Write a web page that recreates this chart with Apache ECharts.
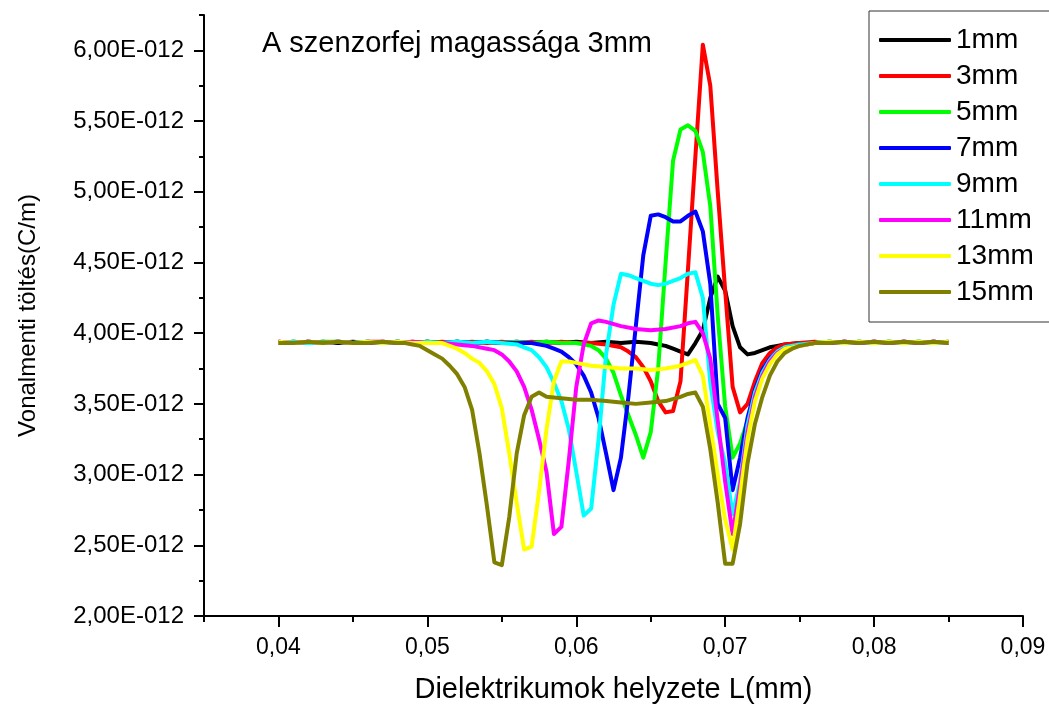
<!DOCTYPE html>
<html>
<head>
<meta charset="utf-8">
<script src="https://cdn.jsdelivr.net/npm/echarts@6/dist/echarts.min.js"></script>
<style>
html,body{margin:0;padding:0;background:#fff;}
#chart{width:1049px;height:711px;}
</style>
</head>
<body>
<div id="chart"></div>
<script>
// ---- data (y in units of 1E-012 C/m) ----
const seriesNames = ['1mm','3mm','5mm','7mm','9mm','11mm','13mm','15mm'];
const xMajorTicks = [0.04,0.05,0.06,0.07,0.08,0.09];
const xMinorTicks = [0.035,0.045,0.055,0.065,0.075,0.085];
const yMajorTicks = [2,2.5,3,3.5,4,4.5,5,5.5,6];
const yMinorTicks = [2.25,2.75,3.25,3.75,4.25,4.75,5.25,5.75,6.25];
const annotation = 'A szenzorfej magassága 3mm';

const s1mm = [[0.040,3.93],[0.041,3.94],[0.042,3.93],[0.043,3.94],[0.044,3.93],[0.045,3.94],[0.046,3.93],[0.047,3.93],[0.048,3.94],[0.049,3.93],[0.050,3.94],[0.051,3.93],[0.052,3.94],[0.053,3.93],[0.054,3.94],[0.055,3.93],[0.056,3.94],[0.057,3.93],[0.058,3.94],[0.059,3.93],[0.060,3.94],[0.061,3.93],[0.062,3.94],[0.063,3.93],[0.064,3.94],[0.065,3.93],[0.0655,3.92],[0.066,3.91],[0.0665,3.89],[0.067,3.87],[0.0675,3.85],[0.068,3.93],[0.0685,4.02],[0.069,4.25],[0.0695,4.40],[0.070,4.30],[0.0705,4.05],[0.071,3.90],[0.0715,3.85],[0.072,3.86],[0.0725,3.88],[0.073,3.90],[0.0735,3.91],[0.074,3.92],[0.075,3.93],[0.076,3.93],[0.077,3.94],[0.078,3.93],[0.079,3.94],[0.080,3.93],[0.081,3.94],[0.082,3.93],[0.083,3.94],[0.084,3.93],[0.085,3.94]];

const s3mm = [[0.040,3.94],[0.041,3.93],[0.042,3.94],[0.043,3.93],[0.044,3.94],[0.045,3.93],[0.046,3.94],[0.047,3.94],[0.048,3.93],[0.049,3.94],[0.050,3.93],[0.051,3.94],[0.052,3.93],[0.053,3.94],[0.054,3.93],[0.055,3.94],[0.056,3.93],[0.057,3.94],[0.058,3.93],[0.059,3.94],[0.060,3.93],[0.061,3.93],[0.062,3.92],[0.063,3.90],[0.0635,3.87],[0.064,3.83],[0.0645,3.76],[0.065,3.66],[0.0655,3.52],[0.066,3.44],[0.0665,3.45],[0.067,3.66],[0.0675,4.45],[0.068,5.25],[0.0685,6.04],[0.069,5.75],[0.0695,5.00],[0.070,4.30],[0.0705,3.62],[0.071,3.44],[0.0715,3.50],[0.072,3.66],[0.0725,3.79],[0.073,3.86],[0.0735,3.90],[0.074,3.92],[0.075,3.93],[0.076,3.94],[0.077,3.93],[0.078,3.94],[0.079,3.93],[0.080,3.94],[0.081,3.93],[0.082,3.94],[0.083,3.93],[0.084,3.94],[0.085,3.93]];

const s5mm = [[0.040,3.93],[0.041,3.94],[0.042,3.93],[0.043,3.94],[0.044,3.94],[0.045,3.93],[0.046,3.94],[0.047,3.93],[0.048,3.94],[0.049,3.93],[0.050,3.94],[0.051,3.93],[0.052,3.94],[0.053,3.93],[0.054,3.94],[0.055,3.93],[0.056,3.94],[0.057,3.93],[0.058,3.94],[0.059,3.93],[0.060,3.93],[0.0605,3.92],[0.061,3.91],[0.0615,3.88],[0.062,3.82],[0.0625,3.72],[0.063,3.56],[0.0635,3.42],[0.064,3.28],[0.0645,3.12],[0.065,3.30],[0.0655,3.75],[0.066,4.50],[0.0665,5.22],[0.067,5.44],[0.0675,5.47],[0.068,5.43],[0.0685,5.28],[0.069,4.90],[0.0695,4.12],[0.070,3.48],[0.0705,3.12],[0.071,3.22],[0.0715,3.38],[0.072,3.56],[0.0725,3.70],[0.073,3.80],[0.0735,3.86],[0.074,3.90],[0.075,3.92],[0.076,3.93],[0.077,3.94],[0.078,3.93],[0.079,3.94],[0.080,3.93],[0.081,3.94],[0.082,3.93],[0.083,3.94],[0.084,3.93],[0.085,3.94]];

const s7mm = [[0.040,3.94],[0.041,3.93],[0.042,3.94],[0.043,3.93],[0.044,3.94],[0.045,3.93],[0.046,3.94],[0.047,3.93],[0.048,3.94],[0.049,3.93],[0.050,3.94],[0.051,3.93],[0.052,3.94],[0.053,3.93],[0.054,3.94],[0.055,3.93],[0.056,3.93],[0.057,3.93],[0.058,3.91],[0.0585,3.89],[0.059,3.87],[0.0595,3.83],[0.060,3.78],[0.0605,3.70],[0.061,3.58],[0.0615,3.40],[0.062,3.15],[0.0625,2.89],[0.063,3.12],[0.0635,3.55],[0.064,4.05],[0.0645,4.55],[0.065,4.83],[0.0655,4.84],[0.066,4.82],[0.0665,4.79],[0.067,4.79],[0.0675,4.83],[0.068,4.86],[0.0685,4.72],[0.069,4.35],[0.0695,3.50],[0.070,3.40],[0.0705,2.89],[0.071,3.12],[0.0715,3.40],[0.072,3.60],[0.0725,3.74],[0.073,3.82],[0.0735,3.87],[0.074,3.90],[0.075,3.92],[0.076,3.93],[0.077,3.93],[0.078,3.94],[0.079,3.93],[0.080,3.94],[0.081,3.93],[0.082,3.94],[0.083,3.93],[0.084,3.94],[0.085,3.93]];

const s9mm = [[0.040,3.93],[0.041,3.94],[0.042,3.93],[0.043,3.93],[0.044,3.94],[0.045,3.93],[0.046,3.94],[0.047,3.93],[0.048,3.94],[0.049,3.93],[0.050,3.94],[0.051,3.93],[0.052,3.94],[0.053,3.93],[0.054,3.94],[0.055,3.93],[0.056,3.92],[0.0565,3.90],[0.057,3.88],[0.0575,3.83],[0.058,3.76],[0.0585,3.65],[0.059,3.52],[0.0595,3.32],[0.060,3.02],[0.0605,2.71],[0.061,2.76],[0.0615,3.25],[0.062,3.85],[0.0625,4.20],[0.063,4.42],[0.0635,4.41],[0.064,4.39],[0.0645,4.37],[0.065,4.35],[0.0655,4.34],[0.066,4.35],[0.0665,4.37],[0.067,4.39],[0.0675,4.42],[0.068,4.43],[0.0685,4.25],[0.069,3.65],[0.0695,3.30],[0.070,3.08],[0.0705,2.72],[0.071,2.95],[0.0715,3.35],[0.072,3.58],[0.0725,3.72],[0.073,3.81],[0.0735,3.87],[0.074,3.90],[0.075,3.92],[0.076,3.93],[0.077,3.94],[0.078,3.93],[0.079,3.94],[0.080,3.93],[0.081,3.94],[0.082,3.93],[0.083,3.94],[0.084,3.93],[0.085,3.93]];

const s11mm = [[0.040,3.94],[0.041,3.93],[0.042,3.94],[0.043,3.93],[0.044,3.94],[0.045,3.93],[0.046,3.93],[0.047,3.94],[0.048,3.93],[0.049,3.94],[0.050,3.93],[0.051,3.93],[0.052,3.92],[0.053,3.91],[0.054,3.89],[0.0545,3.88],[0.055,3.85],[0.0555,3.80],[0.056,3.73],[0.0565,3.62],[0.057,3.46],[0.0575,3.25],[0.058,3.02],[0.0585,2.58],[0.059,2.63],[0.0595,3.10],[0.060,3.62],[0.0605,3.92],[0.061,4.07],[0.0615,4.09],[0.062,4.08],[0.063,4.05],[0.064,4.03],[0.065,4.02],[0.066,4.03],[0.067,4.05],[0.0675,4.07],[0.068,4.08],[0.0685,4.00],[0.069,3.82],[0.0695,3.38],[0.070,2.95],[0.0705,2.58],[0.071,2.92],[0.0715,3.30],[0.072,3.55],[0.0725,3.70],[0.073,3.80],[0.0735,3.86],[0.074,3.89],[0.075,3.91],[0.076,3.93],[0.077,3.93],[0.078,3.94],[0.079,3.93],[0.080,3.94],[0.081,3.93],[0.082,3.94],[0.083,3.93],[0.084,3.94],[0.085,3.93]];

const s13mm = [[0.040,3.94],[0.041,3.93],[0.042,3.94],[0.043,3.93],[0.044,3.94],[0.045,3.93],[0.046,3.94],[0.047,3.93],[0.048,3.94],[0.049,3.93],[0.050,3.93],[0.051,3.93],[0.0515,3.91],[0.052,3.89],[0.0525,3.86],[0.053,3.82],[0.0535,3.79],[0.054,3.73],[0.0545,3.64],[0.055,3.47],[0.0555,3.15],[0.056,2.80],[0.0565,2.47],[0.057,2.49],[0.0575,2.88],[0.058,3.32],[0.0585,3.66],[0.059,3.80],[0.0595,3.80],[0.060,3.79],[0.061,3.77],[0.062,3.76],[0.063,3.75],[0.064,3.75],[0.065,3.74],[0.066,3.75],[0.067,3.77],[0.0675,3.79],[0.068,3.81],[0.0685,3.70],[0.069,3.35],[0.0695,3.00],[0.070,2.68],[0.0705,2.47],[0.071,2.85],[0.0715,3.25],[0.072,3.52],[0.0725,3.68],[0.073,3.78],[0.0735,3.85],[0.074,3.89],[0.075,3.91],[0.076,3.93],[0.077,3.94],[0.078,3.93],[0.079,3.94],[0.080,3.93],[0.081,3.94],[0.082,3.93],[0.083,3.94],[0.084,3.93],[0.085,3.94]];

const s15mm = [[0.040,3.93],[0.041,3.93],[0.042,3.94],[0.043,3.93],[0.044,3.94],[0.045,3.93],[0.046,3.93],[0.047,3.94],[0.048,3.93],[0.0485,3.93],[0.049,3.92],[0.0495,3.91],[0.050,3.88],[0.0505,3.85],[0.051,3.82],[0.0515,3.77],[0.052,3.71],[0.0525,3.62],[0.053,3.46],[0.0535,3.15],[0.054,2.78],[0.0545,2.38],[0.055,2.36],[0.0555,2.70],[0.056,3.15],[0.0565,3.42],[0.057,3.55],[0.0575,3.58],[0.058,3.55],[0.059,3.54],[0.060,3.53],[0.061,3.53],[0.062,3.52],[0.063,3.51],[0.064,3.50],[0.065,3.51],[0.066,3.52],[0.067,3.55],[0.0675,3.57],[0.068,3.58],[0.0685,3.48],[0.069,3.18],[0.0695,2.80],[0.070,2.37],[0.0705,2.37],[0.071,2.65],[0.0715,3.08],[0.072,3.36],[0.0725,3.55],[0.073,3.70],[0.0735,3.80],[0.074,3.86],[0.0745,3.89],[0.075,3.91],[0.076,3.93],[0.077,3.93],[0.078,3.94],[0.079,3.93],[0.080,3.94],[0.081,3.93],[0.082,3.94],[0.083,3.93],[0.084,3.94],[0.085,3.93]];

const seriesData = [s1mm,s3mm,s5mm,s7mm,s9mm,s11mm,s13mm,s15mm];
const seriesColors = ['#000000','#ff0000','#00ff00','#0000ff','#00ffff','#ff00ff','#ffff00','#808000'];

// ---- chart ----
const FONT = '"Liberation Sans", Arial, sans-serif';
const chart = echarts.init(document.getElementById('chart'), null, {renderer:'canvas'});
const axisLineStyle = {color:'#000', width:2};
const option = {
  animation: false,
  backgroundColor: '#ffffff',
  grid: {left: 204, right: 26, top: 15, bottom: 95},
  xAxis: [
    {
      type: 'value', min: 0.035, max: 0.09, position: 'bottom',
      axisLine: {show: true, onZero: false, lineStyle: axisLineStyle},
      axisTick: {show: true, length: 11, lineStyle: axisLineStyle, customValues: xMajorTicks},
      axisLabel: {customValues: xMajorTicks, color: '#000', fontSize: 23, fontFamily: FONT, margin: 20,
        formatter: v => v.toFixed(2).replace('.', ',')},
      splitLine: {show: false},
      name: 'Dielektrikumok helyzete L(mm)', nameLocation: 'middle', nameGap: 59,
      nameTextStyle: {color: '#000', fontSize: 29, fontFamily: FONT}
    },
    {
      type: 'value', min: 0.035, max: 0.09, position: 'bottom',
      axisLine: {show: false, onZero: false},
      axisTick: {show: true, length: 6, lineStyle: axisLineStyle, customValues: xMinorTicks},
      axisLabel: {show: false},
      splitLine: {show: false}
    }
  ],
  yAxis: [
    {
      type: 'value', min: 2, max: 6.25, position: 'left',
      axisLine: {show: true, onZero: false, lineStyle: axisLineStyle},
      axisTick: {show: true, length: 10, lineStyle: axisLineStyle, customValues: yMajorTicks},
      axisLabel: {customValues: yMajorTicks, color: '#000', fontSize: 24, fontFamily: FONT, margin: 20,
        formatter: v => v.toFixed(2).replace('.', ',') + 'E-012'},
      splitLine: {show: false},
      name: 'Vonalmenti töltés(C/m)', nameLocation: 'middle', nameGap: 164,
      nameTextStyle: {color: '#000', fontSize: 24, fontFamily: FONT}
    },
    {
      type: 'value', min: 2, max: 6.25, position: 'left',
      axisLine: {show: false, onZero: false},
      axisTick: {show: true, length: 5, lineStyle: axisLineStyle, customValues: yMinorTicks},
      axisLabel: {show: false},
      splitLine: {show: false}
    }
  ],
  legend: {
    orient: 'vertical', left: 869, top: 11,
    padding: [15, 16, 16, 10],
    borderColor: '#333', borderWidth: 1, backgroundColor: '#fff',
    icon: 'roundRect', itemWidth: 72, itemHeight: 4, itemGap: 8,
    textStyle: {color: '#000', fontSize: 28, fontFamily: FONT, lineHeight: 28},
    data: seriesNames
  },
  graphic: [{
    type: 'text', x: 457, y: 44, z: 100,
    style: {text: annotation, fill: '#000', font: '29px ' + FONT, align: 'center', verticalAlign: 'middle'}
  }],
  series: seriesNames.map((n, i) => ({
    name: n, type: 'line', xAxisIndex: 0, yAxisIndex: 0,
    data: seriesData[i], symbol: 'none', showSymbol: false,
    color: seriesColors[i],
    lineStyle: {color: seriesColors[i], width: 4, join: 'round'},
    z: 2 + i
  }))
};
chart.setOption(option);
</script>
</body>
</html>
